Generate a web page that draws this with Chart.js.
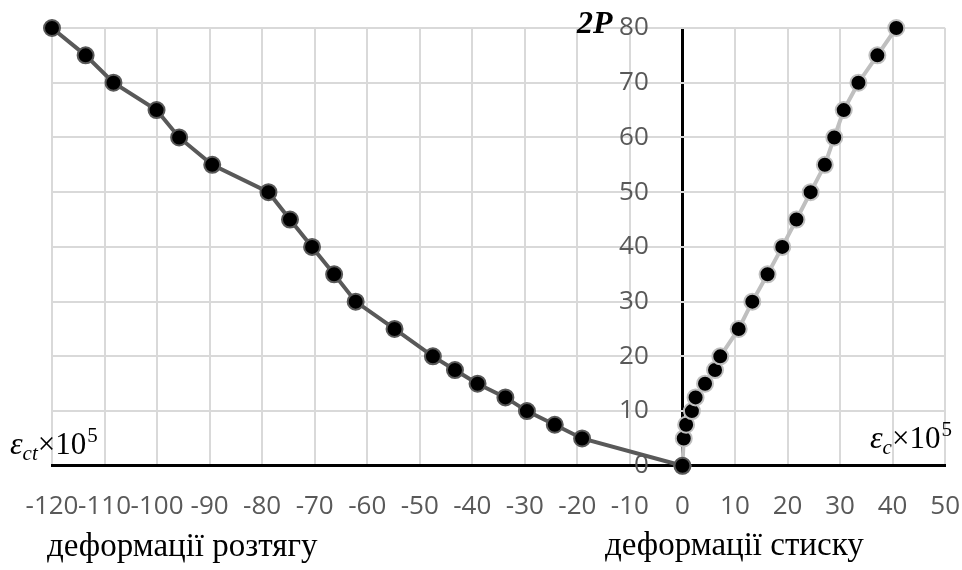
<!DOCTYPE html>
<html lang="uk">
<head>
  <meta charset="UTF-8">
  <title>Деформації</title>
  <style>
    html, body { margin: 0; padding: 0; background: #fff; }
    #wrap { width: 962px; height: 570px; }
  </style>
</head>
<body>
  <div id="wrap"><canvas id="chart"></canvas></div>

  <script src="https://cdn.jsdelivr.net/npm/chart.js"></script>
  <script>
    // load steps 2P (shared by both series)
    const loadLeft  = [80, 75, 70, 65, 60, 55, 50, 45, 40, 35, 30, 25, 20, 17.5, 15, 12.5, 10, 7.5, 5, 0];
    // tensile strain eps_ct x 10^5
    const strainTension = [-120, -113.6, -108.3, -100.1, -95.8, -89.5, -78.8, -74.7, -70.5, -66.3, -62.2,
                           -54.8, -47.5, -43.3, -39.0, -33.7, -29.6, -24.3, -19.1, 0];
    const loadRight = [0, 5, 7.5, 10, 12.5, 15, 17.5, 20, 25, 30, 35, 40, 45, 50, 55, 60, 65, 70, 75, 80];
    // compressive strain eps_c x 10^5
    const strainCompression = [0, 0.25, 0.7, 1.8, 2.5, 4.3, 6.2, 7.2, 10.7, 13.3, 16.2, 19.0, 21.7, 24.4,
                               27.1, 28.9, 30.7, 33.5, 37.1, 40.7];

    const xMin = -120, xMax = 50, xStep = 10;
    const yMin = 0, yMax = 80, yStep = 10;
    // y labels sit a bit left of the zero strain line
    const yLabelAt = -6.4;

    const toPoints = (xs, ys) => xs.map((x, i) => ({ x, y: ys[i] }));

    const tickFont = { family: "'Open Sans', sans-serif", size: 26 };
    const serif = "'Liberation Serif', 'Times New Roman', serif";

    // axis captions (2P, eps x 10^5, deformation names)
    const captions = {
      id: 'captions',
      afterDraw(chart) {
        const { ctx, scales: { x, y } } = chart;
        ctx.save();
        ctx.fillStyle = '#000';
        ctx.textBaseline = 'alphabetic';

        // 2P
        ctx.font = `bold italic 32px ${serif}`;
        ctx.textAlign = 'right';
        ctx.fillText('2P', x.getPixelForValue(-13.3), y.getPixelForValue(80) + 5);

        // eps x 10^5 helper
        function eps(sub, left, base) {
          ctx.textAlign = 'left';
          let cx = left;
          ctx.font = `italic 32px ${serif}`;
          ctx.fillText('ε', cx, base); cx += ctx.measureText('ε').width;
          ctx.font = `italic 21px ${serif}`;
          ctx.fillText(sub, cx, base + 6); cx += ctx.measureText(sub).width;
          ctx.font = `31px ${serif}`;
          ctx.fillText('×10', cx, base); cx += ctx.measureText('×10').width;
          ctx.font = `21px ${serif}`;
          ctx.fillText('5', cx + 1, base - 12);
        }
        eps('ct', 10, y.getPixelForValue(0) - 12);
        eps('c', 870, y.getPixelForValue(0) - 18);

        ctx.font = `33px ${serif}`;
        ctx.textAlign = 'left';
        ctx.fillText('деформації розтягу', 47, 556);
        ctx.fillText('деформації стиску', 605, 555);
        ctx.restore();
      }
    };

    new Chart(document.getElementById('chart'), {
      type: 'scatter',
      data: {
        datasets: [
          {
            label: 'розтяг',
            data: toPoints(strainTension, loadLeft),
            showLine: true,
            clip: false,
            borderColor: '#595959',
            borderWidth: 4,
            pointBackgroundColor: '#000',
            pointBorderColor: '#595959',
            pointBorderWidth: 2,
            pointRadius: 8,
            pointHoverRadius: 8
          },
          {
            label: 'стиск',
            data: toPoints(strainCompression, loadRight),
            showLine: true,
            clip: false,
            borderColor: '#BFBFBF',
            borderWidth: 4,
            pointBackgroundColor: '#000',
            pointBorderColor: '#BFBFBF',
            pointBorderWidth: 2,
            pointRadius: 8,
            pointHoverRadius: 8
          }
        ]
      },
      options: {
        responsive: true,
        maintainAspectRatio: false,
        animation: false,
        layout: { padding: { left: 52, right: 0, top: 28, bottom: 46 } },
        plugins: { legend: { display: false }, tooltip: { enabled: false } },
        scales: {
          x: {
            type: 'linear',
            min: xMin, max: xMax,
            position: 'bottom',
            grid: {
              // the zero strain gridline is the black vertical axis
              color: c => c.tick && c.tick.value === 0 ? '#000' : '#D9D9D9',
              lineWidth: c => c.tick && c.tick.value === 0 ? 3 : 2,
              drawTicks: true, tickLength: 23, tickColor: 'rgba(0,0,0,0)'
            },
            border: { display: true, color: '#000', width: 3 },
            ticks: {
              stepSize: xStep, autoSkip: false, maxRotation: 0, minRotation: 0,
              padding: 2, color: '#595959', font: tickFont
            }
          },
          y: {
            type: 'linear',
            min: yMin, max: yMax,
            position: { x: yLabelAt },
            grid: { color: '#D9D9D9', lineWidth: 2, drawTicks: false },
            border: { display: false },
            ticks: { stepSize: yStep, padding: 0, color: '#595959', font: tickFont }
          }
        }
      },
      plugins: [captions]
    });
  </script>
</body>
</html>
